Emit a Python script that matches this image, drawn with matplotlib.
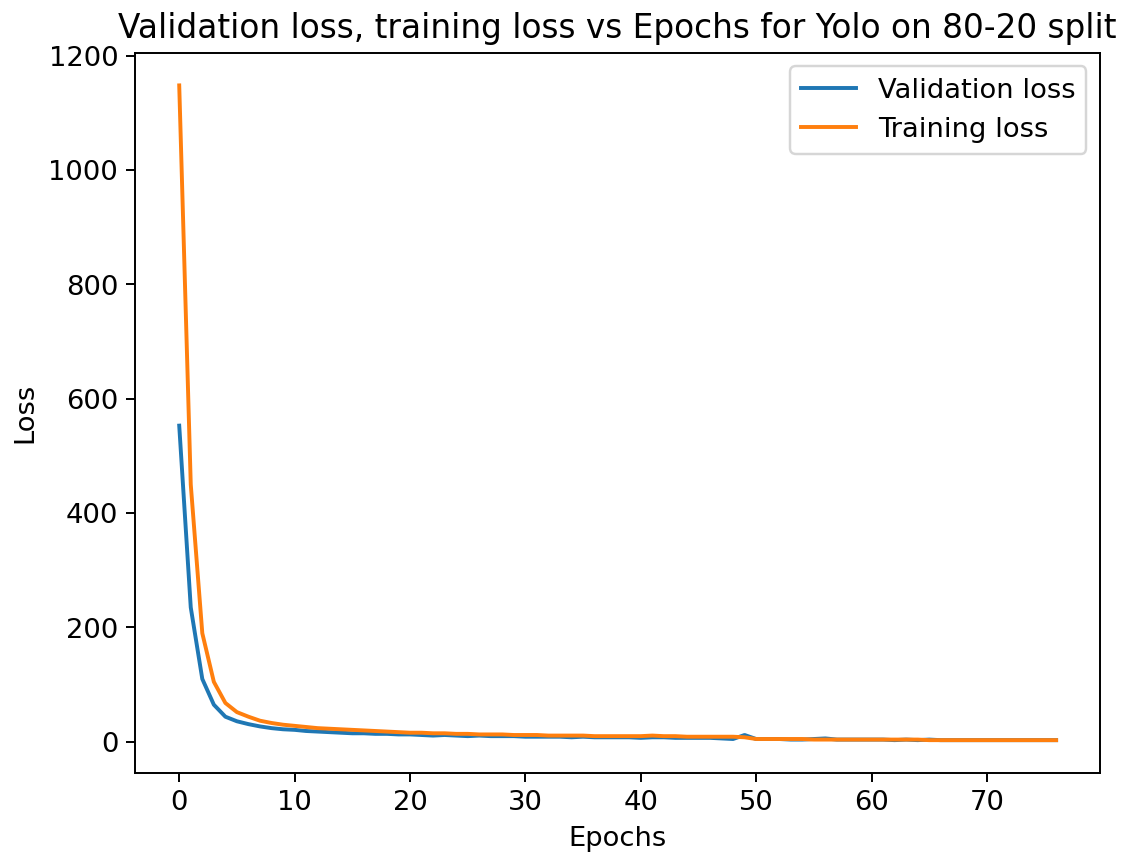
import numpy as np
import matplotlib
matplotlib.use("Agg")
import matplotlib.pyplot as plt

# losses per epoch
val_loss = [553, 235, 110, 65, 44, 36, 31, 27, 24, 22,
            21, 19, 18, 17, 16, 15, 15, 14, 14, 13,
            13, 12, 11, 12, 11, 10, 11, 10, 10, 10,
            9, 9, 9, 9, 8, 9, 8, 8, 8, 8,
            7, 8, 8, 7, 7, 7, 7, 6, 5, 12,
            5, 5, 5, 4, 4, 5, 6, 4, 4, 4,
            4, 4, 3, 4, 3, 4, 3, 3, 3, 3,
            3, 3, 3, 3, 3, 3, 3]
train_loss = [1148, 450, 190, 105, 68, 52, 44, 37, 33, 30,
              28, 26, 24, 23, 22, 21, 20, 19, 18, 17,
              16, 16, 15, 15, 14, 14, 13, 13, 13, 12,
              12, 12, 11, 11, 11, 11, 10, 10, 10, 10,
              10, 11, 10, 10, 9, 9, 9, 9, 9, 8,
              5, 5, 5, 5, 5, 4, 4, 4, 4, 4,
              4, 4, 4, 4, 4, 3, 3, 3, 3, 3,
              3, 3, 3, 3, 3, 3, 3]
epochs = np.arange(len(val_loss))

plt.rcParams["font.size"] = 11.2
plt.rcParams["axes.titlesize"] = 13.4

fig = plt.figure(figsize=(6.41, 4.86), dpi=176)
ax = fig.add_axes([0.12, 0.096, 0.855, 0.842])
ax.plot(epochs, val_loss, label="Validation loss", lw=1.6)
ax.plot(epochs, train_loss, label="Training loss", lw=1.6)
ax.set_title("Validation loss, training loss vs Epochs for Yolo on 80-20 split")
ax.set_xlabel("Epochs")
ax.set_ylabel("Loss")
ax.legend()

fig.savefig("out.png", dpi=176)
